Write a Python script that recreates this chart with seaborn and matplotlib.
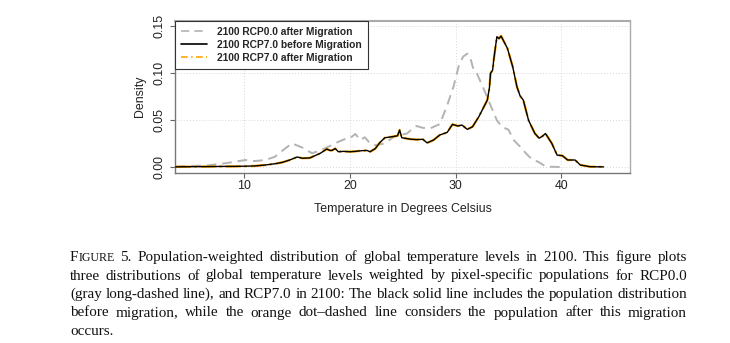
import numpy as np
import pandas as pd
import matplotlib
matplotlib.use("Agg")
import matplotlib.pyplot as plt
import seaborn as sns
from matplotlib.lines import Line2D

# ---------------- data ----------------
temp_rcp70 = [3.5, 5.0, 6.5, 8.0, 9.0, 10.0, 11.0, 12.0, 13.0, 13.6, 14.3, 15.0, 15.5,
              16.2, 16.7, 17.2, 17.8, 18.1, 18.3, 18.6, 18.9, 19.4, 20.0, 20.5, 21.1,
              21.6, 21.9, 22.4, 22.8, 23.3, 24.0, 24.5, 24.7, 24.9, 25.7, 26.3, 26.9,
              27.3, 27.9, 28.5, 29.2, 29.7, 30.2, 30.6, 31.1, 31.6, 32.2, 32.6, 33.0,
              33.2, 33.3, 33.5, 33.6, 33.9, 34.1, 34.3, 34.9, 35.4, 35.8, 36.1, 36.4,
              36.9, 37.5, 37.9, 38.2, 38.5, 39.1, 39.6, 40.1, 40.6, 41.3, 41.8, 42.7, 44.0]
dens_rcp70_before = [0.0005, 0.0007, 0.0008, 0.0010, 0.0010, 0.0012, 0.0015, 0.0025, 0.0040,
                     0.0053, 0.0078, 0.0110, 0.0097, 0.0100, 0.0125, 0.0150, 0.0195, 0.0180,
                     0.0180, 0.0200, 0.0166, 0.0170, 0.0166, 0.0170, 0.0177, 0.0180, 0.0166,
                     0.0200, 0.0260, 0.0315, 0.0326, 0.0336, 0.0397, 0.0315, 0.0300, 0.0295,
                     0.0298, 0.0260, 0.0290, 0.0344, 0.0372, 0.0457, 0.0440, 0.0450, 0.0404,
                     0.0432, 0.0540, 0.0628, 0.0716, 0.0850, 0.1000, 0.1035, 0.1140, 0.1390,
                     0.1370, 0.1397, 0.1266, 0.1070, 0.0857, 0.0760, 0.0716, 0.0500, 0.0360,
                     0.0310, 0.0330, 0.0360, 0.0255, 0.0130, 0.0124, 0.0078, 0.0078, 0.0025,
                     0.0007, 0.0005]
dens_rcp70_after = [0.0005, 0.0007, 0.0008, 0.0010, 0.0010, 0.0012, 0.0015, 0.0025, 0.0040,
                    0.0053, 0.0078, 0.0110, 0.0097, 0.0100, 0.0125, 0.0150, 0.0195, 0.0180,
                    0.0180, 0.0200, 0.0166, 0.0170, 0.0166, 0.0170, 0.0177, 0.0180, 0.0166,
                    0.0200, 0.0260, 0.0315, 0.0326, 0.0336, 0.0397, 0.0315, 0.0300, 0.0295,
                    0.0298, 0.0260, 0.0290, 0.0344, 0.0372, 0.0457, 0.0440, 0.0450, 0.0404,
                    0.0432, 0.0540, 0.0628, 0.0716, 0.0850, 0.1000, 0.1035, 0.1140, 0.1390,
                    0.1370, 0.1397, 0.1266, 0.1070, 0.0857, 0.0760, 0.0716, 0.0500, 0.0360,
                    0.0310, 0.0330, 0.0360, 0.0255, 0.0130, 0.0124, 0.0078, 0.0078, 0.0025,
                    0.0007, 0.0005]

temp_rcp00 = [3.5, 5.0, 6.5, 7.2, 8.2, 9.1, 10.1, 11.0, 12.0, 12.9, 13.6, 14.5, 15.5, 16.4,
              17.2, 18.1, 18.9, 19.5, 20.0, 20.5, 21.0, 21.4, 21.9, 22.4, 23.1, 23.6, 24.1,
              24.7, 25.4, 26.0, 26.3, 26.9, 27.6, 28.5, 29.2, 29.8, 30.3, 30.7, 31.1, 31.4,
              31.7, 32.0, 32.6, 33.3, 33.9, 34.4, 35.0, 35.5, 36.1, 36.4, 36.9, 37.3, 37.8,
              38.3, 38.8, 40.0]
dens_rcp00_after = [0.0010, 0.0015, 0.0020, 0.0030, 0.0043, 0.0060, 0.0078, 0.0067, 0.0078,
                    0.0113, 0.0177, 0.0255, 0.0210, 0.0150, 0.0180, 0.0227, 0.0272, 0.0300,
                    0.0310, 0.0355, 0.0290, 0.0320, 0.0255, 0.0235, 0.0250, 0.0280, 0.0320,
                    0.0344, 0.0360, 0.0420, 0.0440, 0.0420, 0.0415, 0.0460, 0.0660, 0.0860,
                    0.1080, 0.1177, 0.1210, 0.1160, 0.1035, 0.1000, 0.0850, 0.0660, 0.0500,
                    0.0430, 0.0400, 0.0290, 0.0220, 0.0180, 0.0120, 0.0080, 0.0060, 0.0025,
                    0.0007, 0.0003]

series_labels = ["2100 RCP0.0 after Migration",
                 "2100 RCP7.0 before Migration",
                 "2100 RCP7.0 after Migration"]
x_ticks = [10, 20, 30, 40]
y_ticks = [0.00, 0.05, 0.10, 0.15]
y_ticklabels = ["0.00", "0.05", "0.10", "0.15"]
x_label = "Temperature in Degrees Celsius"
y_label = "Density"

caption_lines = [
    "FIGURE 5. Population-weighted distribution of global temperature levels in 2100. This figure plots",
    "three distributions of global temperature levels weighted by pixel-specific populations for RCP0.0",
    "(gray long-dashed line), and RCP7.0 in 2100: The black solid line includes the population distribution",
    "before migration, while the orange dot\u2013dashed line considers the population after this migration",
    "occurs.",
]

# ---------------- figure ----------------
sns.set_theme(style="white")
plt.rcParams["font.family"] = ["Liberation Sans", "DejaVu Sans"]

W, H = 730, 343
fig = plt.figure(figsize=(W / 100, H / 100), dpi=100)
ax_l, ax_r, ax_t, ax_b = 175, 630, 20.7, 172.7
ax = fig.add_axes([ax_l / W, 1 - ax_b / H, (ax_r - ax_l) / W, (ax_b - ax_t) / H])

df70 = pd.DataFrame({"T": temp_rcp70, "before": dens_rcp70_before, "after": dens_rcp70_after})
df00 = pd.DataFrame({"T": temp_rcp00, "after": dens_rcp00_after})

sns.lineplot(data=df00, x="T", y="after", ax=ax, color="#b3b3b3", lw=1.4,
             linestyle=(0, (5, 3)), label=series_labels[0], sort=False)
sns.lineplot(data=df70, x="T", y="after", ax=ax, color="#ffa500", lw=1.7,
             linestyle="-.", label="_nolegend_", sort=False, zorder=3)
sns.lineplot(data=df70, x="T", y="before", ax=ax, color="black", lw=1.0,
             label=series_labels[1], sort=False, zorder=4)
handles = [Line2D([], [], color="#b3b3b3", lw=1.2, linestyle=(0, (5, 3))),
           Line2D([], [], color="black", lw=1.2),
           Line2D([], [], color="#ffa500", lw=1.2, linestyle=(0, (4, 2, 1, 2)))]

ax.set_xlim(3.44, 46.5)
ax.set_ylim(-0.0057, 0.156)
ax.set_xticks(x_ticks)
ax.set_xticklabels([str(t) for t in x_ticks])
ax.set_yticks(y_ticks)
ax.set_yticklabels(y_ticklabels, rotation=90, va="center")
ax.set_xlabel(x_label, fontsize=8.9, labelpad=8, color="#222222")
ax.set_ylabel(y_label, fontsize=8.9, labelpad=6, color="#222222")
ax.tick_params(axis="both", which="both", direction="out", length=3.5, width=0.8,
               color="#666666", labelsize=8.9, labelcolor="#222222", bottom=True, left=True)
ax.tick_params(axis="x", pad=2)
ax.tick_params(axis="y", pad=3)
ax.grid(True, linestyle=(0, (1, 2)), color="#d8d8d8", lw=0.7)
for s in ax.spines.values():
    s.set_visible(True)
    s.set_color("#777777")
    s.set_linewidth(1.0)
ax.spines["top"].set_color("#aaaaaa")
ax.spines["right"].set_color("#aaaaaa")
ax.spines["top"].set_linewidth(1.5)

leg = ax.legend(handles, series_labels, loc="upper left", borderaxespad=0,
                frameon=True, fancybox=False, handlelength=2.5, handletextpad=1.0,
                prop={"weight": "bold", "size": 7.4}, labelspacing=0.3,
                borderpad=0.6)
leg.get_frame().set_edgecolor("#333333")
leg.get_frame().set_linewidth(0.8)
leg.get_frame().set_alpha(1)

# ---------------- caption (justified serif text) ----------------
fig.canvas.draw()
renderer = fig.canvas.get_renderer()
cap_font = "Liberation Serif"
x0, x1 = 70, 687
line_y = [261, 279.5, 298, 316.5, 335]


def word_width(w, size):
    t = fig.text(0, 0, w, fontsize=size, family=cap_font)
    bb = t.get_window_extent(renderer)
    t.remove()
    return bb.width


def first_word_parts(size):
    return [("F", size), ("IGURE", size * 0.78)]


def natural_width(line, size):
    words = line.split(" ")
    space = word_width("a a", size) - 2 * word_width("a", size)
    return sum(word_width(w, size) for w in words) + space * (len(words) - 1)


# choose size so the tightest line (line 3) just fills the measure
base = 10.0
cap_size = base * (x1 - x0) * 1.005 / natural_width(caption_lines[2], base)

for i, line in enumerate(caption_lines):
    words = line.split(" ")
    widths = []
    for j, w in enumerate(words):
        if i == 0 and j == 0:
            widths.append(sum(word_width(p, s) for p, s in first_word_parts(cap_size)))
        else:
            widths.append(word_width(w, cap_size))
    space = word_width("a a", cap_size) - 2 * word_width("a", cap_size)
    justify = i < len(caption_lines) - 1
    if justify and len(words) > 1:
        gap = (x1 - x0 - sum(widths)) / (len(words) - 1)
    else:
        gap = space
    x = x0
    yy = 1 - line_y[i] / H
    for j, w in enumerate(words):
        if i == 0 and j == 0:
            xx = x
            for p, s in first_word_parts(cap_size):
                fig.text(xx / W, yy, p, fontsize=s, family=cap_font, va="baseline",
                         color="#111111")
                xx += word_width(p, s)
        else:
            fig.text(x / W, yy, w, fontsize=cap_size, family=cap_font, va="baseline",
                     color="#111111")
        x += widths[j] + gap

fig.savefig("out.png", dpi=100)
